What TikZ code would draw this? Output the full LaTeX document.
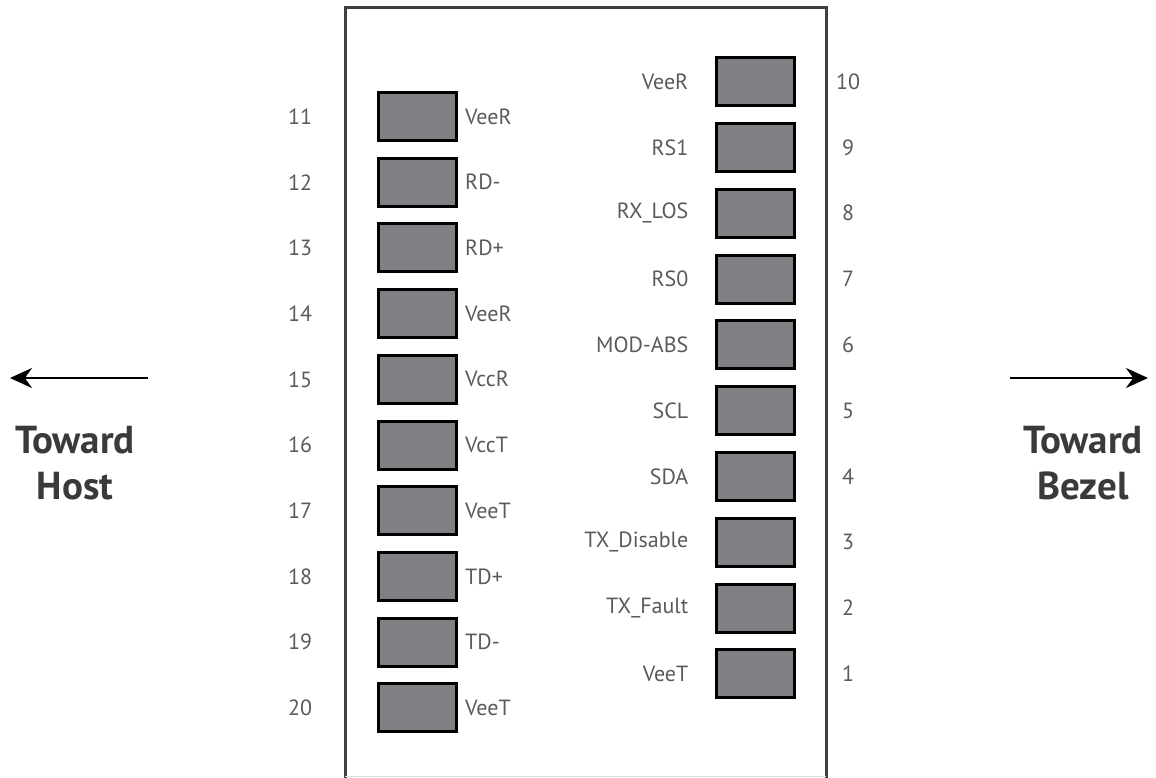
\documentclass[tikz,border=0pt]{standalone}
\usepackage{fontspec}
\setmainfont{PT Sans}
\usetikzlibrary{arrows.meta}
\definecolor{padgray}{HTML}{7F8083}
\definecolor{labelgray}{HTML}{5A5A5A}
\definecolor{framegray}{HTML}{404040}
\definecolor{headgray}{HTML}{3A3A3A}
\begin{document}
\begin{tikzpicture}[x=1pt,y=-1pt]
    \tikzset{pad/.style={draw=black,line width=3pt,fill=padgray,minimum width=78pt,minimum height=48pt,inner sep=0pt},
             pin label/.style={text=labelgray,inner sep=0pt,font=\fontsize{22}{24}\selectfont},
             side label/.style={text=headgray,align=center,inner sep=0pt,font=\bfseries\fontsize{39}{46}\selectfont},
             side arrow/.style={draw=black,line width=2.5pt,-{Stealth[length=22pt,width=20pt]}}}
    \useasboundingbox (0,0) rectangle (1156,778);

    % connector body
    \draw [framegray,line width=3pt] (345,778) -- (345,7.5) -- (826,7.5) -- (826,778);
    \draw [black!12,line width=1pt] (345,776.5) -- (826,776.5);

    % pins 11 to 20
    \foreach \n/\name [count=\i from 0] in {11/VeeR,12/RD-,13/RD+,14/VeeR,15/VccR,16/VccT,17/VeeT,18/TD+,19/TD-,20/VeeT} {
      \node [pad] (pad\n) at (417,116.5+65.7*\i) {};
      \node [pin label,anchor=west] (name\n) at ([xshift=7.5pt]pad\n.east) {\name};
      \node [pin label] (num\n) at (300,116.5+65.7*\i) {\n};
    }

    % pins 10 to 1
    \foreach \n/\name [count=\i from 0] in {10/VeeR,9/RS1,8/RX\_LOS,7/RS0,6/MOD-ABS,5/SCL,4/SDA,3/TX\_Disable,2/TX\_Fault,1/VeeT} {
      \node [pad] (pad\n) at (755,81.7+65.8*\i) {};
      \node [pin label,anchor=east] (name\n) at ([xshift=-26pt]pad\n.west) {\name};
      \node [pin label] (num\n) at (848,81.7+65.8*\i) {\n};
    }

    \coordinate (host-start) at (148,378);
    \coordinate (host-tip) at (10,378);
    \coordinate (bezel-start) at (1010,378);
    \coordinate (bezel-tip) at (1148,378);
    \draw [side arrow] (host-start) -- (host-tip);
    \draw [side arrow] (bezel-start) -- (bezel-tip);

    \node [side label] (host) at (75,463) {Toward\\Host};
    \node [side label] (bezel) at (1083,463) {Toward\\Bezel};
  \end{tikzpicture}
\end{document}
